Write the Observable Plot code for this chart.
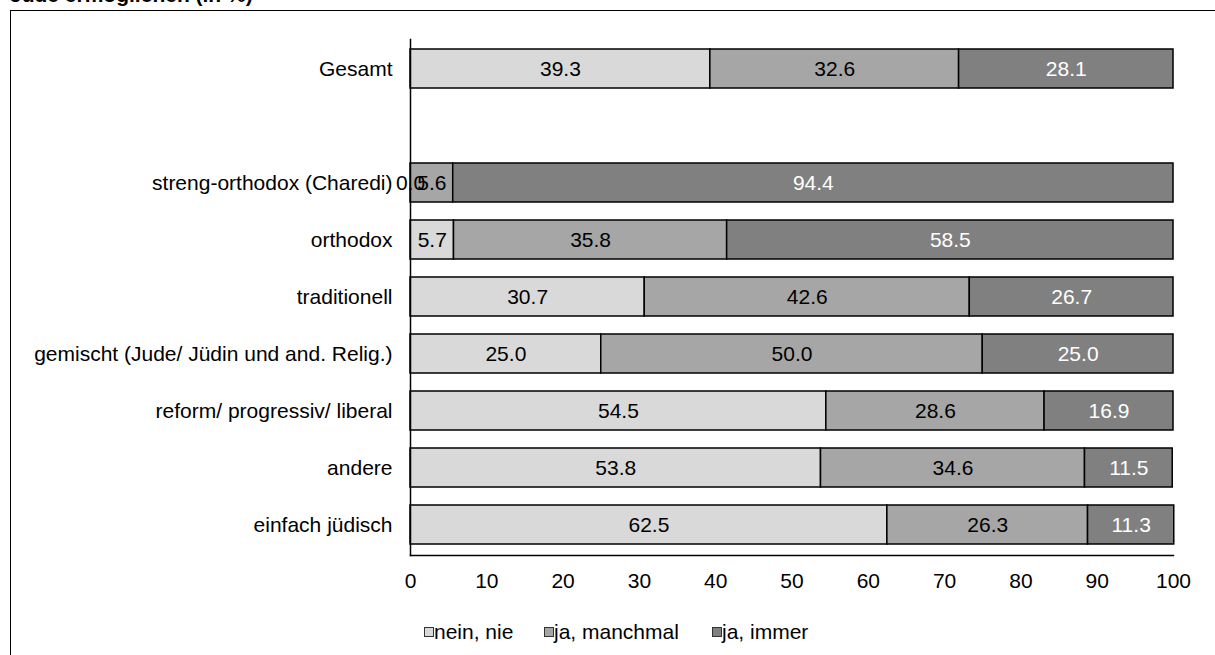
<!DOCTYPE html>
<html>
<head>
<meta charset="utf-8">
<script src="https://cdn.jsdelivr.net/npm/d3@7"></script>
<script src="https://cdn.jsdelivr.net/npm/@observablehq/plot@0.6"></script>
<style>
  html, body { margin: 0; padding: 0; background: #fff; overflow: hidden; }
  #wrap { position: relative; width: 1215px; height: 655px; font-family: "Liberation Sans", Arial, sans-serif; }
  #frame { position: absolute; left: 10px; top: 10px; width: 1300px; height: 700px; border-left: 1.5px solid #000; border-top: 1.5px solid #000; }
  #title { position: absolute; left: 10px; top: -16px; font-size: 21px; font-weight: bold; line-height: 21px; white-space: nowrap; }
  #chart { position: absolute; left: 0; top: 0; }
  #legend { position: absolute; left: 0; top: 620px; width: 1215px; height: 24px; font-size: 21px; color: #000; }
  .item { position: absolute; top: 0; display: flex; align-items: center; height: 24px; white-space: nowrap; }
  .sw { width: 8px; height: 8px; border: 1.5px solid #333; margin-right: 0px; }
</style>
</head>
<body>
<div id="wrap">
  <div id="title">Jude ermöglichen (in %)</div>
  <div id="frame"></div>
  <div id="chart"></div>
  <div id="legend"></div>
</div>
<script>
const categories = [
  "Gesamt",
  " ",
  "streng-orthodox (Charedi)",
  "orthodox",
  "traditionell",
  "gemischt (Jude/ Jüdin und and. Relig.)",
  "reform/ progressiv/ liberal",
  "andere",
  "einfach jüdisch"
];
const responses = ["nein, nie", "ja, manchmal", "ja, immer"];
const colors = ["#d9d9d9", "#a6a6a6", "#808080"];
const labelColors = ["#000", "#000", "#fff"];
const neinNie   = [39.3, null, 0.0, 5.7, 30.7, 25.0, 54.5, 53.8, 62.5];
const manchmal  = [32.6, null, 5.6, 35.8, 42.6, 50.0, 28.6, 34.6, 26.3];
const immer     = [28.1, null, 94.4, 58.5, 26.7, 25.0, 16.9, 11.5, 11.3];
const xTicks = [0, 10, 20, 30, 40, 50, 60, 70, 80, 90, 100];
const legendLeft = [424, 544, 712];

const series = [neinNie, manchmal, immer];
const data = [];
categories.forEach((c, i) => {
  series.forEach((s, j) => {
    if (s[i] !== null) data.push({group: c, response: responses[j], value: s[i], idx: j});
  });
});

const stackOpts = {x: "value", y: "group", z: "response", order: responses};

const plot = Plot.plot({
  width: 1215,
  height: 600,
  marginLeft: 410,
  marginRight: 42,
  marginTop: 39,
  marginBottom: 45,
  style: {background: "transparent", fontFamily: "'Liberation Sans', Arial, sans-serif", fontSize: "21px", color: "#000"},
  x: {domain: [0, 100], ticks: xTicks, label: null},
  y: {domain: categories, paddingInner: 0.31, paddingOuter: 0.14, label: null},
  color: {domain: responses, range: colors},
  marks: [
    Plot.barX(data, Plot.stackX({...stackOpts, fill: "response", stroke: "#000", strokeWidth: 1.5})),
    Plot.text(data, Plot.stackX({...stackOpts, text: d => d.value.toFixed(1), fill: d => labelColors[d.idx], fontSize: 21})),
    Plot.frame({anchor: "left", stroke: "#000", strokeWidth: 1.5}),
    Plot.frame({anchor: "bottom", stroke: "#000", strokeWidth: 1.5}),
    Plot.axisX({ticks: xTicks, tickSize: 0, tickPadding: 18, fontSize: 21, label: null, tickFormat: d => String(d)}),
    Plot.axisY({tickSize: 0, tickPadding: 18, fontSize: 21, label: null})
  ]
});
document.getElementById("chart").appendChild(plot);

const legend = document.getElementById("legend");
responses.forEach((r, i) => {
  const item = document.createElement("div");
  item.className = "item";
  item.style.left = legendLeft[i] + "px";
  const sw = document.createElement("div");
  sw.className = "sw";
  sw.style.background = colors[i];
  const t = document.createElement("span");
  t.textContent = r;
  item.appendChild(sw);
  item.appendChild(t);
  legend.appendChild(item);
});
</script>
</body>
</html>
